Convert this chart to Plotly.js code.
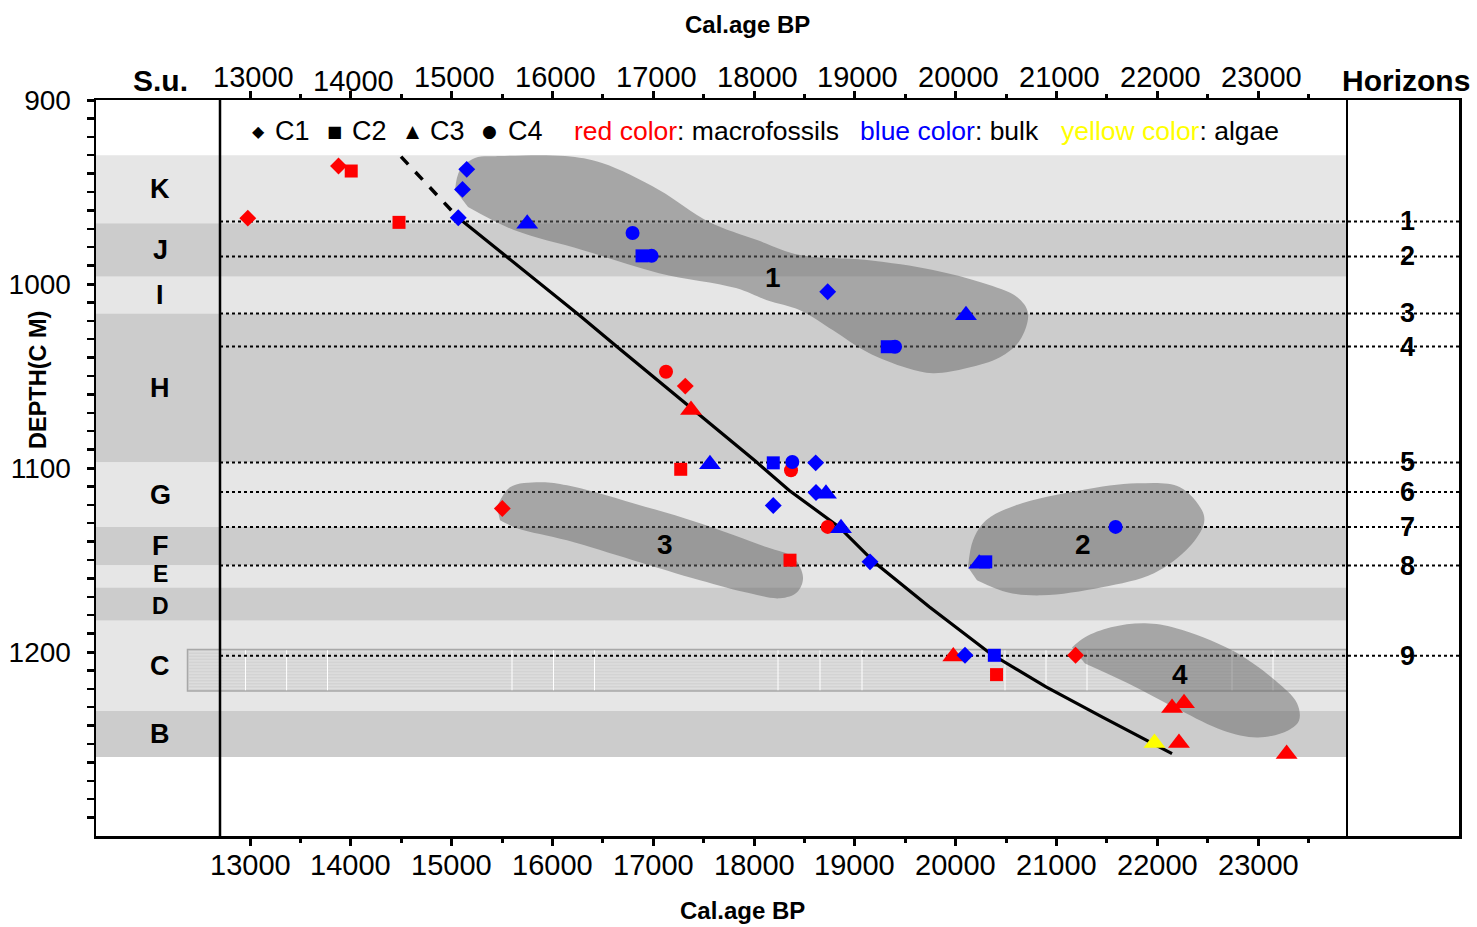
<!DOCTYPE html>
<html><head><meta charset="utf-8">
<script src="https://cdn.plot.ly/plotly-3.0.1.min.js"></script>
<style>html,body{margin:0;padding:0;background:#fff;}#chart{width:1477px;height:927px;}</style>
</head><body><div id="chart"></div>
<script>
// ================= DATA =================
const ageTicks = [13000,14000,15000,16000,17000,18000,19000,20000,21000,22000,23000];
const ageTickLabels = ['13000','14000','15000','16000','17000','18000','19000','20000','21000','22000','23000'];
const ageMinorTicks = [13500,14500,15500,16500,17500,18500,19500,20500,21500,22500,23500];
const depthTicks = [900,1000,1100,1200];
const depthTickLabels = ['900','1000','1100','1200'];

// stratigraphic units (S.u.)
const suLabels = ['K','J','I','H','G','F','E','D','C','B'];
const suTop    = [930, 967, 996, 1016,1097,1132,1153,1165,1183,1232];
const suBottom = [967, 996, 1016,1097,1132,1153,1165,1183,1232,1257];

// horizons
const horizonLabels = ['1','2','3','4','5','6','7','8','9'];
const horizonDepths = [966, 985, 1016, 1034, 1097, 1113, 1132, 1153, 1202];

// hatched layer within C
const hatchDepthTop = 1198.7;
const hatchDepthBottom = 1221.2;

// age-depth model
const modelDashAge   = [14498, 15066];
const modelDashDepth = [930.8, 964.0];
const modelAge   = [15066, 16264, 16641, 18010, 18347, 18843, 19206, 19741, 20341, 20897, 21452, 22147];
const modelDepth = [964.0, 1016.8,1034.1,1096.1,1112.1,1132.0,1151.8,1175.5,1200.7,1219.0,1235.3,1255.2];

// dated samples: red = macrofossils, blue = bulk, yellow = algae; C1..C4 = cores
const redC1Age   = [13878, 12978, 17318, 15503, 21190];
const redC1Depth = [935.9, 964.2, 1055.5,1122.0,1201.8];
const redC2Age   = [14004, 14478, 17273, 18357, 20406];
const redC2Depth = [938.6, 966.5, 1100.7,1150.1,1212.3];
const redC3Age   = [17375, 19977, 22147, 22266, 22216, 23284];
const redC3Depth = [1068.5,1202.5,1230.5,1227.8,1249.5,1255.5];
const redC4Age   = [17127, 18367, 18731];
const redC4Depth = [1047.7,1101.2,1132.0];

const blueC1Age   = [15150, 15108, 15066, 18731, 18612, 18615, 18191, 19151, 20093];
const blueC1Depth = [937.7, 948.6, 964.0, 1004.2,1097.2,1113.3,1120.4,1151.0,1201.8];
const blueC2Age   = [16889, 19322, 18191, 20299, 20384];
const blueC2Depth = [984.7, 1034.1,1097.2,1151.0,1201.8];
const blueC3Age   = [15750, 20103, 17563, 18714, 18863, 20234];
const blueC3Depth = [967.3, 1017.0,1098.0,1114.0,1132.8,1152.0];
const blueC4Age   = [16795, 16984, 19399, 18380, 21587];
const blueC4Depth = [972.3, 984.7, 1034.1,1096.7,1132.0];

const yellowC3Age   = [21973];
const yellowC3Depth = [1249.5];

// sample groups (outlined clusters)
const group1Age   = [15034,15083,15232,15480,16125,16492,17058,17554,18030,18456,19121,19776,20272,20609,20718,20639,20440,20113,19776,19518,19121,18784,18456,18129,17821,17058,16304,15619,15163];
const group1Depth = [948.9,938.1,931.5,930.5,930.5,934.3,948.9,966.3,976.1,984.3,987.0,992.4,999.5,1007.1,1015.8,1030.5,1039.8,1045.7,1048.5,1045.7,1037.0,1025.1,1014.2,1008.8,1002.2,994.1,981.6,970.7,958.2];
const group2Age   = [20123,20173,20302,20599,21244,21800,22226,22444,22464,22315,21968,21452,20857,20510,20212];
const group2Depth = [1154.0,1139.3,1128.4,1120.2,1112.1,1108.3,1110.4,1123.0,1130.0,1143.1,1157.2,1164.8,1169.2,1167.5,1161.0];
const group3Age   = [15450,15579,15877,16145,16800,17464,18129,18387,18486,18427,18258,17960,17464,16800,16145,15649,15480];
const group3Depth = [1121.3,1110.4,1107.7,1109.4,1119.1,1130.0,1143.1,1148.5,1159.4,1167.5,1170.8,1168.1,1161.0,1150.1,1139.3,1132.7,1128.4];
const group4Age   = [21155,21284,21542,21879,22187,22742,23169,23387,23407,23298,23000,22653,22226,21710,21284];
const group4Depth = [1197.5,1192.0,1186.6,1184.4,1187.1,1199.1,1215.4,1227.9,1237.2,1242.6,1246.4,1242.6,1231.7,1217.0,1206.2];
const groupLabels = ['1','2','3','4'];
const groupLabelAge   = [18188, 21264, 17117, 22226];
const groupLabelDepth = [996.3, 1141.5, 1141.5, 1212.2];

// ================= LAYOUT HELPERS =================
const FONT = 'Liberation Sans, Arial, sans-serif';
const L = 96, R = 1459, T = 100, B = 836;
const px = x => (x - L) / (R - L);
const py = y => (B - y) / (B - T);
const xRange = [11472, 24994];
const yRange = [1300, 900];
const suColX = px(220), horColX = px(1347);

const shapes = [];
// S.u. bands
suLabels.forEach((s, i) => {
  shapes.push({type:'rect', xref:'paper', yref:'y', x0:0, x1:horColX, y0:suTop[i], y1:suBottom[i],
    fillcolor: i % 2 === 0 ? '#e6e6e6' : '#cccccc', line:{width:0}, layer:'below'});
});
// hatched layer
shapes.push({type:'rect', xref:'paper', yref:'y', x0:px(187.5), x1:horColX, y0:hatchDepthTop, y1:hatchDepthBottom,
  fillcolor:'#d3d3d3', line:{color:'#a8a8a8', width:1.5}, layer:'below'});
for (let d = hatchDepthTop + 1.2; d < hatchDepthBottom - 0.5; d += 1.65) {
  shapes.push({type:'line', xref:'paper', yref:'y', x0:px(189), x1:horColX, y0:d, y1:d,
    line:{color:'#e2e2e2', width:1}, layer:'below'});
}
[245.5,286.6,327.5,512,553.5,594.5,778,820,862,1005,1046,1087,1232,1273].forEach(x => {
  shapes.push({type:'line', xref:'paper', yref:'y', x0:px(x), x1:px(x), y0:hatchDepthTop+0.4, y1:hatchDepthBottom-0.4,
    line:{color:'#ffffff', width:1}, layer:'below'});
});
// horizon lines
horizonDepths.forEach(d => {
  shapes.push({type:'line', xref:'paper', yref:'y', x0:suColX, x1:1, y0:d, y1:d,
    line:{color:'#000', width:2, dash:'dot'}, layer:'below'});
});
// column separators
shapes.push({type:'line', xref:'paper', yref:'paper', x0:suColX, x1:suColX, y0:0, y1:1, line:{color:'#000', width:2.5}});
shapes.push({type:'line', xref:'paper', yref:'paper', x0:horColX, x1:horColX, y0:0, y1:1, line:{color:'#000', width:2}});

const annotations = [];
const ann = (text, x, y, size, opts) => Object.assign({text, x, y, xref:'paper', yref:'paper', showarrow:false,
  xanchor:'center', yanchor:'middle', font:{family:FONT, size, color:'#000'}}, opts || {});

annotations.push(ann('<b>Cal.age BP</b>', px(747), py(24), 24));
annotations.push(ann('<b>Cal.age BP</b>', px(742), py(910), 24));
annotations.push(ann('<b>S.u.</b>', px(160), py(80), 30));
annotations.push(ann('<b>Horizons</b>', px(1406), py(80), 30));
annotations.push(ann('<b>DEPTH(C M)</b>', px(38), py(380), 23.5, {textangle:-90}));

// age tick labels (top and bottom)
ageTicks.forEach((v, i) => {
  annotations.push(ann(ageTickLabels[i], v, py(865), 29, {xref:'x'}));
  annotations.push(ann(ageTickLabels[i], v + 30, py(i === 1 ? 81 : 77), 29, {xref:'x'}));
});

// S.u. letters (E and D are thin bands: slightly smaller, nudged apart)
const suLabelSize = {E:23, D:23};
const suLabelNudge = {E:-1.2, D:1.0};
suLabels.forEach((s, i) => {
  const yc = (suTop[i] + suBottom[i]) / 2 + (suLabelNudge[s] || 0);
  annotations.push(ann('<b>' + s + '</b>', px(160), yc, suLabelSize[s] || 27, {yref:'y'}));
});
horizonLabels.forEach((h, i) => {
  annotations.push(ann('<b>' + h + '</b>', px(1407), horizonDepths[i], 27, {yref:'y'}));
});
groupLabels.forEach((g, i) => {
  annotations.push(ann('<b>' + g + '</b>', groupLabelAge[i], groupLabelDepth[i], 28, {xref:'x', yref:'y'}));
});

// legend line
const legY = py(131);
const symFont = 'DejaVu Sans, sans-serif';
[['\u25C6',258,16],['\u25A0',334,16],['\u25B2',413,17],['\u25CF',490,17]].forEach(s => {
  annotations.push(ann(s[0], px(s[1]), legY, s[2], {font:{family:symFont, size:s[2], color:'#000'}}));
});
[['C1',273],['C2',350],['C3',428],['C4',506]].forEach(s => {
  annotations.push(ann(s[0], px(s[1]), legY, 27, {xanchor:'left'}));
});
annotations.push(ann('<span style="color:#ff0000">red color</span>: macrofossils', px(572), legY, 26.5, {xanchor:'left'}));
annotations.push(ann('<span style="color:#0000ff">blue color</span>: bulk', px(858), legY, 26.5, {xanchor:'left'}));
annotations.push(ann('<span style="color:#ffff00">yellow color</span>: algae', px(1059), legY, 26.5, {xanchor:'left'}));

// ================= TRACES =================
const groupFill = 'rgba(102,102,102,0.5)';
const blob = (xs, ys) => ({x:xs, y:ys, type:'scatter', mode:'lines', fill:'toself', fillcolor:groupFill,
  line:{width:0, shape:'spline', smoothing:1}, hoverinfo:'skip', showlegend:false});
const pts = (xs, ys, color, symbol, size) => ({x:xs, y:ys, type:'scatter', mode:'markers', showlegend:false,
  marker:{color, symbol, size, line:{width:0}}});

const RED = '#ff0000', BLUE = '#0000ff', YEL = '#ffff00';
const SZ = {diamond:13, square:13, tri:19, circle:14};
const traces = [
  blob(group1Age, group1Depth), blob(group2Age, group2Depth), blob(group3Age, group3Depth), blob(group4Age, group4Depth),
  {x:modelDashAge, y:modelDashDepth, type:'scatter', mode:'lines', line:{color:'#000', width:3.5, dash:'dash'}, showlegend:false, xaxis:'x2'},
  {x:modelAge, y:modelDepth, type:'scatter', mode:'lines', line:{color:'#000', width:3.2}, showlegend:false},
  pts(redC1Age, redC1Depth, RED, 'diamond', SZ.diamond),
  pts(redC2Age, redC2Depth, RED, 'square', SZ.square),
  pts(redC3Age, redC3Depth, RED, 'triangle-up', SZ.tri),
  pts(redC4Age, redC4Depth, RED, 'circle', SZ.circle),
  pts(blueC1Age, blueC1Depth, BLUE, 'diamond', SZ.diamond),
  pts(blueC2Age, blueC2Depth, BLUE, 'square', SZ.square),
  pts(blueC3Age, blueC3Depth, BLUE, 'triangle-up', SZ.tri),
  pts(blueC4Age, blueC4Depth, BLUE, 'circle', SZ.circle),
  pts(yellowC3Age, yellowC3Depth, YEL, 'triangle-up', SZ.tri)
];

const depthMinor = [];
for (let d = 910; d < 1300; d += 10) if (d % 100 !== 0) depthMinor.push(d);

const xCommon = {
  range: xRange, tickmode:'array', tickvals: ageTicks, ticktext: ageTickLabels, showticklabels:false,
  ticks:'outside', ticklen:7, tickwidth:3, tickcolor:'#000',
  minor:{tickmode:'array', tickvals: ageMinorTicks, ticks:'outside', ticklen:4, tickwidth:3, tickcolor:'#000'},
  showline:true, linecolor:'#000', linewidth:2.5, showgrid:false, zeroline:false, fixedrange:true
};

const layout = {
  width:1477, height:927,
  margin:{l:L, r:1477-R, t:T, b:927-B, pad:0},
  paper_bgcolor:'#ffffff', plot_bgcolor:'#ffffff',
  showlegend:false,
  xaxis: Object.assign({}, xCommon, {side:'bottom', anchor:'y'}),
  xaxis2: Object.assign({}, xCommon, {side:'top', overlaying:'x', anchor:'y'}),
  yaxis: {
    range: yRange, tickmode:'array', tickvals: depthTicks, ticktext: depthTickLabels,
    ticks:'outside', ticklen:7, tickwidth:3, tickcolor:'#000',
    minor:{tickmode:'array', tickvals: depthMinor, ticks:'outside', ticklen:7, tickwidth:2.5, tickcolor:'#000'},
    showline:true, mirror:true, linecolor:'#000', linewidth:2.5, showgrid:false, zeroline:false,
    tickfont:{family:FONT, size:28, color:'#000'}, fixedrange:true, ticklabelstandoff:10
  },
  shapes, annotations
};

Plotly.newPlot('chart', traces, layout, {staticPlot:true, displayModeBar:false});
</script>
</body></html>
